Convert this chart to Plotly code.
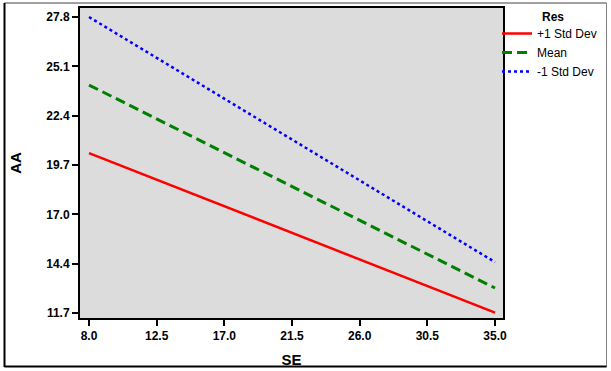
import plotly.graph_objects as go

# Data
se_vals = [8.0, 35.0]
aa_plus1 = [20.40, 11.72]
aa_mean = [24.10, 13.06]
aa_minus1 = [27.80, 14.47]
series_names = ["+1 Std Dev", "Mean", "-1 Std Dev"]
x_ticks = [8.0, 12.5, 17.0, 21.5, 26.0, 30.5, 35.0]
y_tick_labels = ["11.7", "14.4", "17.0", "19.7", "22.4", "25.1", "27.8"]
y_min, y_max = 11.7, 27.8

y_tick_vals = [y_min + i * (y_max - y_min) / 6 for i in range(7)]

fig = go.Figure()
fig.add_trace(go.Scatter(x=se_vals, y=aa_plus1, mode="lines", name=series_names[0],
                         line=dict(color="#ff0000", width=2.5, dash="solid")))
fig.add_trace(go.Scatter(x=se_vals, y=aa_mean, mode="lines", name=series_names[1],
                         line=dict(color="#008000", width=3, dash="10px,5px")))
fig.add_trace(go.Scatter(x=se_vals, y=aa_minus1, mode="lines", name=series_names[2],
                         line=dict(color="#0000ff", width=2.5, dash="3px,3px")))

L, R, T, B = 80, 108, 8, 53
pw, ph = 611 - L - R, 371 - T - B

def px_x(p):
    return (p - L) / pw

def px_y(p):
    return (371 - B - p) / ph

tickfont = dict(family="Liberation Sans, Arial, sans-serif", size=12, color="#000000")

fig.update_layout(
    width=611, height=371,
    margin=dict(l=L, r=R, t=T, b=B, autoexpand=False),
    paper_bgcolor="#ffffff",
    plot_bgcolor="#dcdcdc",
    font=dict(family="Liberation Sans, Arial, sans-serif", color="#000000"),
    showlegend=True,
    legend=dict(x=px_x(497), y=px_y(19), xanchor="left", yanchor="top",
                font=dict(size=12, color="#000000"), bgcolor="rgba(0,0,0,0)",
                tracegroupgap=0, itemwidth=30),
    xaxis=dict(
        range=[7.4, 35.53], tickvals=x_ticks, ticktext=[f"<b>{v:.1f}</b>" for v in x_ticks],
        showgrid=False, zeroline=False, showline=True, linecolor="#000000", linewidth=2,
        mirror=True, ticks="outside", ticklen=6, tickwidth=2, tickcolor="#000000",
        tickfont=tickfont, automargin=False,
        title=dict(text="<b>SE</b>", font=dict(size=15), standoff=12),
    ),
    yaxis=dict(
        range=[11.43, 28.29], tickvals=y_tick_vals, ticktext=[f"<b>{t}</b>" for t in y_tick_labels],
        showgrid=False, zeroline=False, showline=True, linecolor="#000000", linewidth=2,
        mirror=True, ticks="outside", ticklen=6, tickwidth=2, tickcolor="#000000",
        tickfont=tickfont, automargin=False,
        title=dict(text="<b>AA</b>", font=dict(size=15), standoff=21),
    ),
    annotations=[dict(text="<b>Res</b>", xref="paper", yref="paper",
                      x=px_x(540), y=px_y(17), xanchor="left", yanchor="middle",
                      showarrow=False, font=dict(size=12, color="#000000"))],
    shapes=[
        dict(type="line", xref="paper", yref="paper", x0=px_x(4.5), x1=px_x(606.5),
             y0=px_y(3), y1=px_y(3), line=dict(color="#808080", width=1.5)),
        dict(type="line", xref="paper", yref="paper", x0=px_x(606.5), x1=px_x(606.5),
             y0=px_y(3), y1=px_y(367), line=dict(color="#808080", width=1)),
        dict(type="line", xref="paper", yref="paper", x0=px_x(4.5), x1=px_x(4.5),
             y0=px_y(3), y1=px_y(367), line=dict(color="#000000", width=2)),
        dict(type="line", xref="paper", yref="paper", x0=px_x(4.5), x1=px_x(606.5),
             y0=px_y(366.5), y1=px_y(366.5), line=dict(color="#000000", width=2)),
    ],
)

fig.write_html("out.html", config={"displayModeBar": False},
               post_script="document.body.style.margin='0';document.body.style.overflow='hidden';")
